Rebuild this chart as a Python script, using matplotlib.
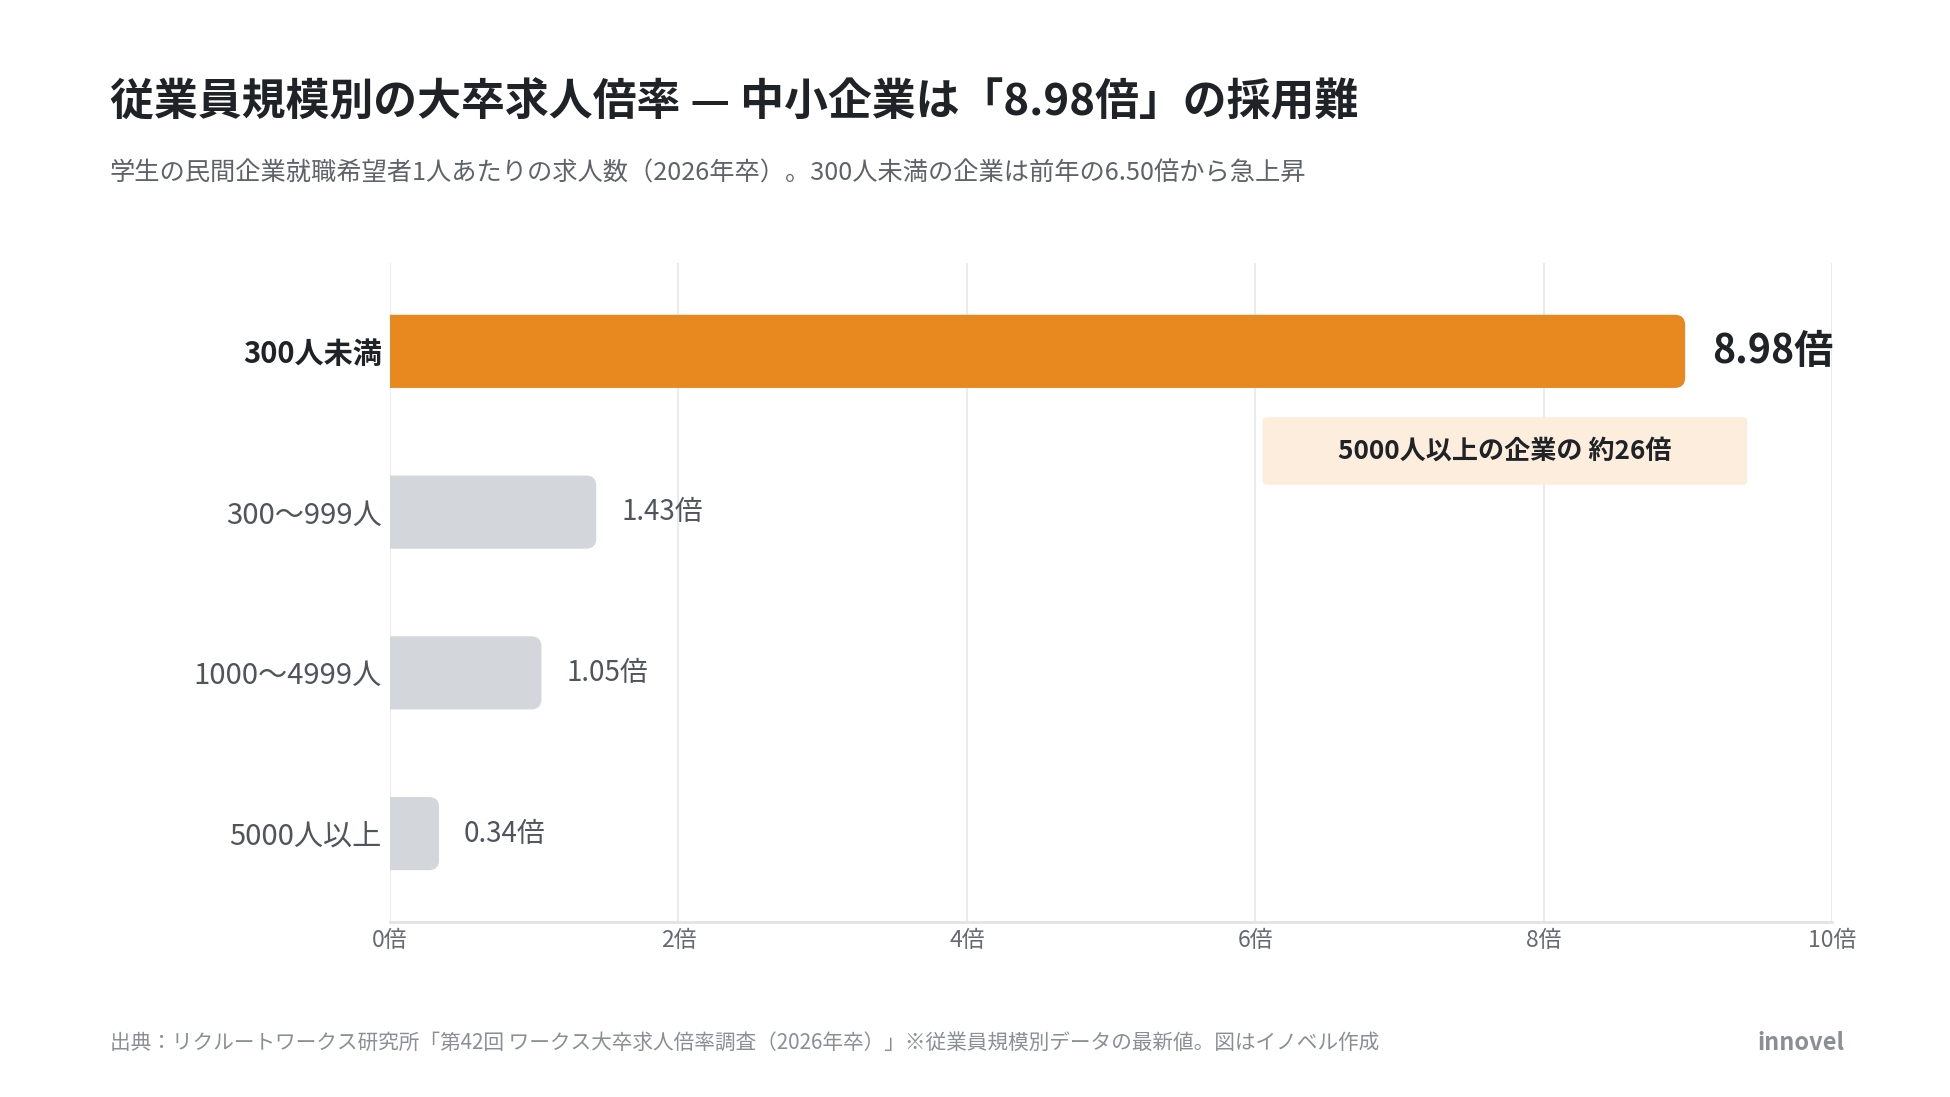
import matplotlib
matplotlib.use("Agg")
import matplotlib.pyplot as plt
from matplotlib.patches import FancyBboxPatch

plt.rcParams["font.family"] = ["Noto Sans CJK JP", "DejaVu Sans"]

# data
categories = ["300人未満", "300〜999人", "1000〜4999人", "5000人以上"]
ratios = [8.98, 1.43, 1.05, 0.34]
xticks = [0, 2, 4, 6, 8, 10]
xtick_labels = [f"{t}倍" for t in xticks]

orange = "#E8891F"
gray_bar = "#D3D6DB"
dark = "#1f2328"
mid = "#50555c"

fig = plt.figure(figsize=(19.5, 10.97), dpi=100)
ax = fig.add_axes([0.2, 0.1595, 0.7396, 0.6008])

ypos = list(range(len(categories)))
colors = [orange] + [gray_bar] * (len(categories) - 1)
bars = ax.barh(ypos, ratios, height=0.455, color=colors)

# swap plain bars for ones rounded on the right end
for b in bars:
    b.set_visible(False)
    rb = FancyBboxPatch((b.get_x() - 0.3, b.get_y()), b.get_width() + 0.3, b.get_height(),
                        boxstyle="round,pad=0,rounding_size=0.07", mutation_aspect=0.9,
                        fc=b.get_facecolor(), ec="none", zorder=2)
    ax.add_patch(rb)

ax.set_xlim(0, 10)
ax.set_ylim(3.55, -0.55)
ax.set_xticks(xticks)
ax.set_xticklabels(xtick_labels, fontsize=16.5, color="#666a70")
ax.set_yticks(ypos)
ax.set_yticklabels(categories, fontsize=21, color=mid)
ax.get_yticklabels()[0].set_fontweight("bold")
ax.get_yticklabels()[0].set_color(dark)
ax.tick_params(axis="x", length=0, pad=5)
ax.tick_params(axis="y", length=0, pad=6)

ax.grid(axis="x", color="#e8e8ea", linewidth=1.2)
ax.set_axisbelow(True)
for s in ["top", "right", "left"]:
    ax.spines[s].set_visible(False)
ax.spines["bottom"].set_color("#e2e3e5")
ax.spines["bottom"].set_linewidth(2)

# value labels
for i, v in enumerate(ratios):
    if i == 0:
        ax.annotate(f"{v:.2f}倍", (v, i), xytext=(19.5, 0), textcoords="offset points",
                    va="center", ha="left", fontsize=28.2, fontweight="bold", color=dark)
    else:
        ax.annotate(f"{v:.2f}倍", (v, i), xytext=(18, 0), textcoords="offset points",
                    va="center", ha="left", fontsize=20, color=mid)

# callout box
box = FancyBboxPatch((6.05, 0.41), 3.36, 0.42, boxstyle="round,pad=0,rounding_size=0.03",
                     mutation_aspect=0.9, fc="#FCEDDD", ec="none", zorder=3)
ax.add_patch(box)
ax.text(6.05 + 3.36 / 2, 0.62, f"{categories[-1]}の企業の 約{round(ratios[0] / ratios[-1])}倍",
        ha="center", va="center", fontsize=18.8, fontweight="bold", color=dark, zorder=4)

# titles
fig.text(0.0564, 0.907, "従業員規模別の大卒求人倍率 — 中小企業は「8.98倍」の採用難",
         fontsize=31.6, fontweight="bold", color=dark, va="center", ha="left")
fig.text(0.0564, 0.842,
         "学生の民間企業就職希望者1人あたりの求人数（2026年卒）。300人未満の企業は前年の6.50倍から急上昇",
         fontsize=18.2, color="#5f6368", va="center", ha="left")

# footer
fig.text(0.0564, 0.049,
         "出典：リクルートワークス研究所「第42回 ワークス大卒求人倍率調査（2026年卒）」※従業員規模別データの最新値。図はイノベル作成",
         fontsize=14.9, color="#8a8f96", va="center", ha="left")
fig.text(0.946, 0.049, "innovel", fontsize=17, fontweight="bold", color="#8a8f96",
         va="center", ha="right")

fig.savefig("out.png", dpi=100, facecolor="white")
